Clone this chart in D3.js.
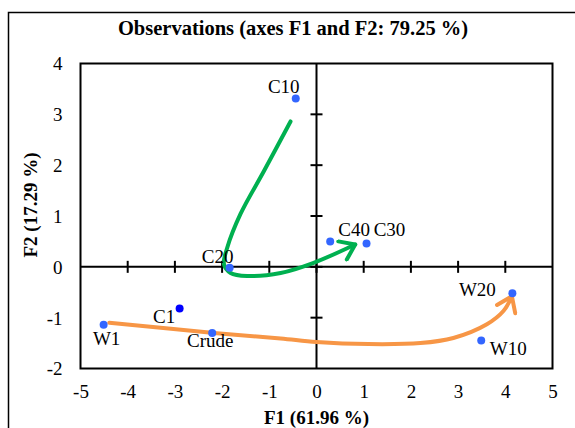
<!DOCTYPE html>
<html>
<head>
<meta charset="utf-8">
<script src="https://cdn.jsdelivr.net/npm/d3@7"></script>
<style>
  html, body { margin: 0; padding: 0; background: #fff; }
  svg { display: block; }
  text { font-family: "Liberation Serif", "Times New Roman", serif; fill: #000; }
</style>
</head>
<body>
<svg id="chart" width="575" height="428"></svg>
<script>
// PCA observation scores (F1, F2)
const names  = ["C10", "C20", "C40", "C30", "W1", "C1", "Crude", "W20", "W10"];
const f1     = [-0.44, -1.84, 0.29, 1.06, -4.51, -2.90, -2.21, 4.15, 3.49];
const f2     = [3.31, -0.02, 0.50, 0.46, -1.14, -0.82, -1.30, -0.52, -1.45];

const xTicks = [-5, -4, -3, -2, -1, 0, 1, 2, 3, 4, 5];
const yTicks = [-2, -1, 0, 1, 2, 3, 4];

// trend arrows, in F1/F2 units
const greenPathF1 = [-0.55, -1.11, -1.61, -1.89, -1.96, -1.82, -1.47, -0.76, -0.06, 0.82];
const greenPathF2 = [2.86, 1.89, 1.04, 0.38, 0.05, -0.12, -0.18, -0.12, 0.08, 0.44];
const orangePathF1 = [-4.39, -2.17, -0.76, 0.0, 1.10, 2.20, 2.90, 3.61, 3.96, 4.14];
const orangePathF2 = [-1.10, -1.30, -1.41, -1.48, -1.52, -1.50, -1.40, -1.13, -0.87, -0.58];

const title  = "Observations (axes F1 and F2: 79.25 %)";
const xTitle = "F1 (61.96 %)";
const yTitle = "F2 (17.29 %)";

// label offsets around each point (px)
const labelOffset = {
  C10: [-12, -6], C20: [-12, -5], C40: [24, -5], C30: [23, -7],
  W1: [3, 20], C1: [-15.5, 14], Crude: [-2, 14.5], W20: [-35, 3], W10: [27, 14]
};
const pointColor = { C1: "#0000ff" };

const svg = d3.select("#chart");
const plot = { left: 80.5, right: 552.5, top: 63.5, bottom: 368.5 };

const x = d3.scaleLinear().domain([-5, 5]).range([plot.left, plot.right]);
const y = d3.scaleLinear().domain([-2, 4]).range([plot.bottom, plot.top]);

// outer frame
svg.append("rect")
  .attr("x", 8.5).attr("y", 12.5).attr("width", 600).attr("height", 450)
  .attr("fill", "none").attr("stroke", "#000").attr("stroke-width", 1.5);

// title
svg.append("text")
  .attr("x", 293).attr("y", 35)
  .attr("text-anchor", "middle")
  .attr("font-size", 20.5).attr("font-weight", "bold")
  .text(title);

// plot area border
svg.append("rect")
  .attr("x", plot.left).attr("y", plot.top)
  .attr("width", plot.right - plot.left).attr("height", plot.bottom - plot.top)
  .attr("fill", "none").attr("stroke", "#000").attr("stroke-width", 2);

// zero axes
svg.append("line")
  .attr("x1", plot.left).attr("x2", plot.right)
  .attr("y1", y(0)).attr("y2", y(0))
  .attr("stroke", "#000").attr("stroke-width", 2);
svg.append("line")
  .attr("x1", x(0)).attr("x2", x(0))
  .attr("y1", plot.top).attr("y2", plot.bottom)
  .attr("stroke", "#000").attr("stroke-width", 2);

// crossing tick marks on the zero axes
const tk = 6;
svg.append("g").selectAll("line").data(xTicks.slice(1, -1)).join("line")
  .attr("x1", d => x(d)).attr("x2", d => x(d))
  .attr("y1", y(0) - tk).attr("y2", y(0) + tk)
  .attr("stroke", "#000").attr("stroke-width", 2);
svg.append("g").selectAll("line").data(yTicks.slice(1, -1)).join("line")
  .attr("x1", x(0) - tk).attr("x2", x(0) + tk)
  .attr("y1", d => y(d)).attr("y2", d => y(d))
  .attr("stroke", "#000").attr("stroke-width", 2);

// tick labels via d3 axes (lines hidden)
const xAxis = svg.append("g")
  .attr("transform", `translate(0,${plot.bottom + 16})`)
  .call(d3.axisBottom(x).tickValues(xTicks).tickSize(0).tickFormat(d3.format("d")));
const yAxis = svg.append("g")
  .attr("transform", `translate(${plot.left - 18},0)`)
  .call(d3.axisLeft(y).tickValues(yTicks).tickSize(0).tickFormat(d3.format("d")));
[xAxis, yAxis].forEach(g => {
  g.select(".domain").remove();
  g.selectAll("text")
    .attr("font-family", "Liberation Serif, Times New Roman, serif")
    .attr("font-size", 19).attr("fill", "#000");
});
xAxis.selectAll("text").attr("dy", "0.71em").attr("y", 0);
yAxis.selectAll("text").attr("x", 0).attr("dy", "0.34em");
// minus signs as plain hyphens
xAxis.selectAll("text").text(d => String(d));
yAxis.selectAll("text").text(d => String(d));

// axis titles
svg.append("text")
  .attr("x", x(0)).attr("y", 424)
  .attr("text-anchor", "middle")
  .attr("font-size", 19).attr("font-weight", "bold")
  .text(xTitle);
svg.append("text")
  .attr("transform", "translate(37,205) rotate(-90)")
  .attr("text-anchor", "middle")
  .attr("font-size", 19).attr("font-weight", "bold")
  .text(yTitle);

// arrows
const defs = svg.append("defs");
function chevron(id, color) {
  defs.append("marker")
    .attr("id", id)
    .attr("viewBox", "-20 -12 24 24")
    .attr("refX", 0).attr("refY", 0)
    .attr("markerWidth", 24).attr("markerHeight", 24)
    .attr("markerUnits", "userSpaceOnUse")
    .attr("orient", "auto")
    .append("path")
    .attr("d", "M-14,-10 L0,0 L-14,10")
    .attr("fill", "none").attr("stroke", color)
    .attr("stroke-width", 4).attr("stroke-linecap", "round").attr("stroke-linejoin", "round");
}
chevron("arrowGreen", "#00b050");
chevron("arrowOrange", "#f79646");

const curve = d3.line()
  .x(d => x(d[0])).y(d => y(d[1]))
  .curve(d3.curveCatmullRom.alpha(0.5));

svg.append("path")
  .attr("d", curve(d3.zip(greenPathF1, greenPathF2)))
  .attr("fill", "none").attr("stroke", "#00b050").attr("stroke-width", 4)
  .attr("stroke-linecap", "round")
  .attr("marker-end", "url(#arrowGreen)");

svg.append("path")
  .attr("d", curve(d3.zip(orangePathF1, orangePathF2)))
  .attr("fill", "none").attr("stroke", "#f79646").attr("stroke-width", 4)
  .attr("stroke-linecap", "round")
  .attr("marker-end", "url(#arrowOrange)");

// observations
const obs = names.map((n, i) => ({ name: n, f1: f1[i], f2: f2[i] }));
svg.append("g").selectAll("circle").data(obs).join("circle")
  .attr("cx", d => x(d.f1)).attr("cy", d => y(d.f2)).attr("r", 4)
  .attr("fill", d => pointColor[d.name] || "#3366ff");

svg.append("g").selectAll("text").data(obs).join("text")
  .attr("x", d => x(d.f1) + labelOffset[d.name][0])
  .attr("y", d => y(d.f2) + labelOffset[d.name][1])
  .attr("text-anchor", "middle")
  .attr("font-size", 19)
  .text(d => d.name);
</script>
</body>
</html>
